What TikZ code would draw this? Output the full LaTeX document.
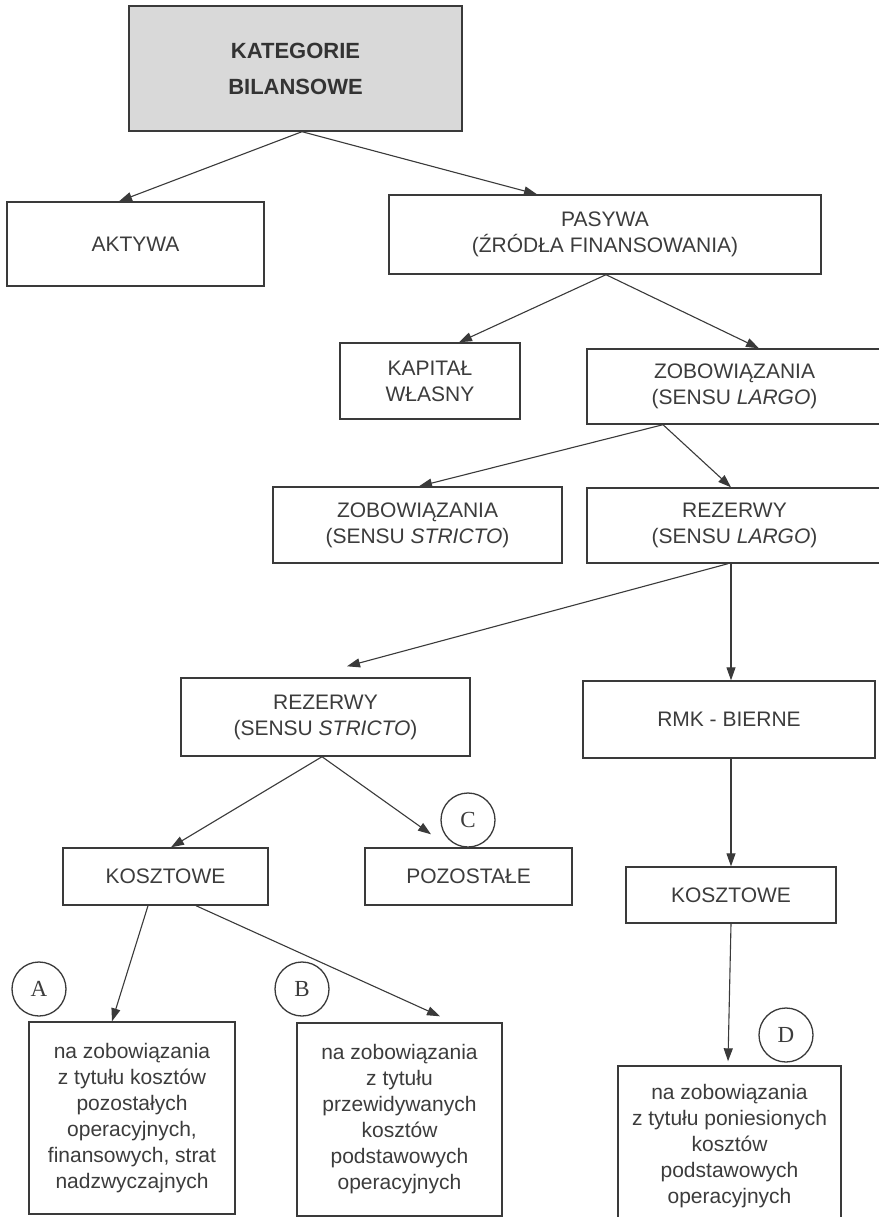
\documentclass[tikz,border=0pt]{standalone}
\usepackage{fontspec}
\setmainfont{Liberation Sans}
\newfontfamily\serifletters{Liberation Serif}
\usetikzlibrary{arrows.meta,calc}
\definecolor{ink}{HTML}{3A3A3A}
\definecolor{txt}{HTML}{3C3C3C}
\definecolor{boxfill}{HTML}{D9D9D9}
\tikzset{
  box/.style={draw=ink, line width=1.4pt, text=txt, align=center, inner sep=0pt,
              font=\fontsize{21}{26}\selectfont},
  conn/.style={draw=ink, line width=1.1pt, -{Triangle[length=13pt,width=9pt]}},
  tag/.style={circle, draw=ink, line width=1.3pt, minimum size=54pt, inner sep=0pt,
              text=txt, font=\fontsize{23}{26}\serifletters},
}
\begin{document}
\begin{tikzpicture}[x=1pt,y=-1pt]
\useasboundingbox[fill=white] (0,0) rectangle (878,1217);
% boxes
\node[box, fill=boxfill, minimum width=333pt, minimum height=125pt,
      font=\fontsize{22}{36}\selectfont\bfseries, text=black!80] (top) at (295.5,68.5) {KATEGORIE\\BILANSOWE};
\node[box, minimum width=257pt, minimum height=84pt] (aktywa) at (135.5,244) {AKTYWA};
\node[box, minimum width=432pt, minimum height=79pt] (pasywa) at (605,234.5) {PASYWA\\(ŹRÓDŁA FINANSOWANIA)};
\node[box, minimum width=180pt, minimum height=76pt] (kapital) at (430,381) {KAPITAŁ\\WŁASNY};
\node[box, minimum width=295pt, minimum height=75pt] (zobL) at (734.5,386.5) {ZOBOWIĄZANIA\\(SENSU \textit{LARGO})};
\node[box, minimum width=289pt, minimum height=76pt] (zobS) at (417.5,525) {ZOBOWIĄZANIA\\(SENSU \textit{STRICTO})};
\node[box, minimum width=295pt, minimum height=75pt] (rezL) at (734.5,525.5) {REZERWY\\(SENSU \textit{LARGO})};
\node[box, minimum width=289pt, minimum height=78pt] (rezS) at (325.5,717) {REZERWY\\(SENSU \textit{STRICTO})};
\node[box, minimum width=292pt, minimum height=77pt] (rmk) at (729,719.5) {RMK - BIERNE};
\node[box, minimum width=205pt, minimum height=57pt] (kosL) at (165.5,876.5) {KOSZTOWE};
\node[box, minimum width=207pt, minimum height=57pt] (poz) at (468.5,876.5) {POZOSTAŁE};
\node[box, minimum width=210pt, minimum height=56pt] (kosR) at (731,895) {KOSZTOWE};
\node[box, minimum width=206pt, minimum height=192pt] (boxA) at (132,1118)
  {na zobowiązania\\z tytułu kosztów\\pozostałych\\operacyjnych,\\finansowych, strat\\nadzwyczajnych};
\node[box, minimum width=205pt, minimum height=193pt] (boxB) at (399.5,1119.5)
  {na zobowiązania\\z tytułu\\przewidywanych\\kosztów\\podstawowych\\operacyjnych};
\node[box, minimum width=223pt, minimum height=160pt] (boxD) at (729.5,1146)
  {na zobowiązania\\z tytułu poniesionych\\kosztów\\podstawowych\\operacyjnych};
% circled labels
\node[tag] (cA) at (39,989) {A};
\node[tag] (cB) at (302,989) {B};
\node[tag] (cC) at (468,820) {C};
\node[tag] (cD) at (786,1035) {D};
% connectors
\draw[conn] ([xshift=6.5pt]top.south) -- ([xshift=-16.5pt]aktywa.north);
\draw[conn] ([xshift=6.5pt]top.south) -- ([xshift=-68pt]pasywa.north);
\draw[conn] ([xshift=1pt]pasywa.south) -- ([xshift=29pt]kapital.north);
\draw[conn] ([xshift=1pt]pasywa.south) -- ([xshift=24.5pt]zobL.north);
\draw[conn] ([xshift=-71.5pt]zobL.south) -- ([xshift=1.5pt]zobS.north);
\draw[conn] ([xshift=-71.5pt]zobL.south) -- ([xshift=-3.5pt]rezL.north);
\draw[conn] ([xshift=-6.5pt]rezL.south) -- ([shift={(21.5,-11)}]rezS.north);
\draw[conn] ([xshift=-3.5pt]rezL.south) -- ([xshift=2pt]rmk.north);
\draw[conn] ([xshift=-3.5pt]rezS.south) -- ([xshift=5.5pt]kosL.north);
\draw[conn] ([xshift=-3.5pt]rezS.south) -- ([shift={(-37.5,-13)}]poz.north);
\draw[conn] ([xshift=2pt]rmk.south) -- (kosR.north);
\draw[conn] ([xshift=-17.5pt]kosL.south) -- ([xshift=-20pt]boxA.north);
\draw[conn] ([xshift=30.5pt]kosL.south) -- ([shift={(40.5,-6)}]boxB.north);
\draw[conn] (kosR.south) -- ([shift={(-1.5,-4)}]boxD.north);
\end{tikzpicture}
\end{document}
